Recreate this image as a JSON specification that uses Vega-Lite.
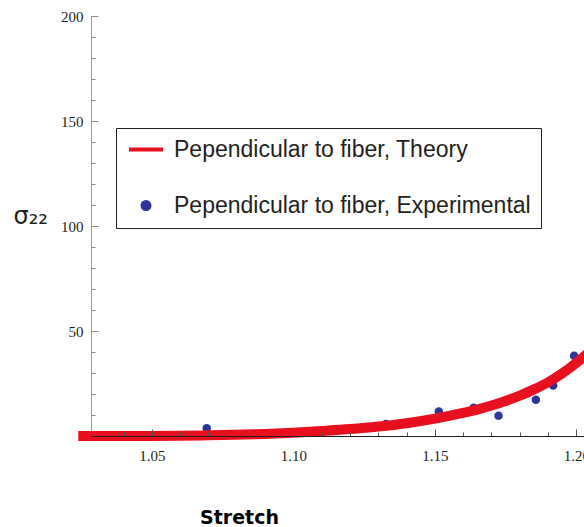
{
  "$schema": "https://vega.github.io/schema/vega-lite/v6.json",
  "width": 493,
  "height": 420,
  "autosize": "none",
  "padding": {"left": 91, "top": 16, "right": 0, "bottom": 91},
  "background": "#ffffff",
  "config": {"view": {"stroke": null}},
  "datasets": {
    "theory": [
      {"series": "Pependicular to fiber, Theory", "stretch": 1.024, "sigma": 0},
      {"series": "Pependicular to fiber, Theory", "stretch": 1.03, "sigma": 0},
      {"series": "Pependicular to fiber, Theory", "stretch": 1.04, "sigma": 0},
      {"series": "Pependicular to fiber, Theory", "stretch": 1.05, "sigma": 0},
      {"series": "Pependicular to fiber, Theory", "stretch": 1.06, "sigma": 0.1},
      {"series": "Pependicular to fiber, Theory", "stretch": 1.07, "sigma": 0.3},
      {"series": "Pependicular to fiber, Theory", "stretch": 1.08, "sigma": 0.6},
      {"series": "Pependicular to fiber, Theory", "stretch": 1.09, "sigma": 1.0},
      {"series": "Pependicular to fiber, Theory", "stretch": 1.10, "sigma": 1.6},
      {"series": "Pependicular to fiber, Theory", "stretch": 1.11, "sigma": 2.4},
      {"series": "Pependicular to fiber, Theory", "stretch": 1.12, "sigma": 3.3},
      {"series": "Pependicular to fiber, Theory", "stretch": 1.13, "sigma": 4.5},
      {"series": "Pependicular to fiber, Theory", "stretch": 1.14, "sigma": 6.1},
      {"series": "Pependicular to fiber, Theory", "stretch": 1.15, "sigma": 8.3},
      {"series": "Pependicular to fiber, Theory", "stretch": 1.155, "sigma": 9.6},
      {"series": "Pependicular to fiber, Theory", "stretch": 1.16, "sigma": 11.0},
      {"series": "Pependicular to fiber, Theory", "stretch": 1.165, "sigma": 12.6},
      {"series": "Pependicular to fiber, Theory", "stretch": 1.17, "sigma": 14.5},
      {"series": "Pependicular to fiber, Theory", "stretch": 1.175, "sigma": 16.7},
      {"series": "Pependicular to fiber, Theory", "stretch": 1.18, "sigma": 19.2},
      {"series": "Pependicular to fiber, Theory", "stretch": 1.185, "sigma": 22.2},
      {"series": "Pependicular to fiber, Theory", "stretch": 1.19, "sigma": 25.6},
      {"series": "Pependicular to fiber, Theory", "stretch": 1.195, "sigma": 29.8},
      {"series": "Pependicular to fiber, Theory", "stretch": 1.20, "sigma": 34.8},
      {"series": "Pependicular to fiber, Theory", "stretch": 1.205, "sigma": 40.5}
    ],
    "experimental": [
      {"series": "Pependicular to fiber, Experimental", "stretch": 1.0694, "sigma": 3.7},
      {"series": "Pependicular to fiber, Experimental", "stretch": 1.1327, "sigma": 5.7},
      {"series": "Pependicular to fiber, Experimental", "stretch": 1.1368, "sigma": 5.7},
      {"series": "Pependicular to fiber, Experimental", "stretch": 1.1514, "sigma": 11.7},
      {"series": "Pependicular to fiber, Experimental", "stretch": 1.1637, "sigma": 13.5},
      {"series": "Pependicular to fiber, Experimental", "stretch": 1.1725, "sigma": 9.7},
      {"series": "Pependicular to fiber, Experimental", "stretch": 1.1857, "sigma": 17.3},
      {"series": "Pependicular to fiber, Experimental", "stretch": 1.1918, "sigma": 24.1},
      {"series": "Pependicular to fiber, Experimental", "stretch": 1.1992, "sigma": 38.2}
    ]
  },
  "layer": [
    {
      "data": {"name": "experimental"},
      "mark": {"type": "point", "filled": true, "size": 72, "opacity": 1},
      "encoding": {
        "x": {
          "field": "stretch", "type": "quantitative",
          "scale": {"domain": [1.0285, 1.2027], "nice": false, "zero": false},
          "axis": {
            "orient": "bottom",
            "values": [1.03, 1.04, 1.06, 1.07, 1.08, 1.09, 1.11, 1.12, 1.13, 1.14, 1.16, 1.17, 1.18, 1.19],
            "tickSize": -4, "tickColor": "#555555", "labels": false, "domain": false,
            "title": null, "grid": false, "zindex": 1
          }
        },
        "y": {
          "field": "sigma", "type": "quantitative",
          "scale": {"domain": [0, 200], "nice": false},
          "axis": {
            "orient": "left",
            "values": [10, 20, 30, 40, 60, 70, 80, 90, 110, 120, 130, 140, 160, 170, 180, 190],
            "tickSize": -4, "tickColor": "#888888", "labels": false, "domain": false,
            "title": null, "grid": false
          }
        },
        "color": {
          "field": "series", "type": "nominal",
          "scale": {
            "domain": ["Pependicular to fiber, Theory", "Pependicular to fiber, Experimental"],
            "range": ["#e8101f", "#2e3598"]
          },
          "legend": {
            "orient": "none", "legendX": 25, "legendY": 112, "direction": "vertical",
            "title": null,
            "labelFont": "Liberation Sans", "labelFontSize": 23, "labelColor": "#231f20",
            "labelLimit": 600, "labelOffset": 16.5,
            "strokeColor": "#231f20", "fillColor": "#ffffff", "padding": 10,
            "rowPadding": 32, "symbolSize": 49, "symbolStrokeWidth": 4, "symbolOffset": 8.5,
            "symbolOpacity": 1
          }
        },
        "shape": {
          "field": "series", "type": "nominal",
          "scale": {
            "domain": ["Pependicular to fiber, Theory", "Pependicular to fiber, Experimental"],
            "range": ["M-4.86,0H4.86", "circle"]
          },
          "legend": {
            "orient": "none", "legendX": 25, "legendY": 112, "direction": "vertical",
            "title": null,
            "labelFont": "Liberation Sans", "labelFontSize": 23, "labelColor": "#231f20",
            "labelLimit": 600, "labelOffset": 16.5,
            "strokeColor": "#231f20", "fillColor": "#ffffff", "padding": 10,
            "rowPadding": 32, "symbolSize": 49, "symbolStrokeWidth": 4, "symbolOffset": 8.5,
            "symbolOpacity": 1
          }
        }
      }
    },
    {
      "data": {"name": "theory"},
      "mark": {"type": "line", "strokeWidth": 10, "interpolate": "monotone", "strokeCap": "butt"},
      "encoding": {
        "x": {
          "field": "stretch", "type": "quantitative",
          "axis": {
            "orient": "bottom",
            "values": [1.05, 1.10, 1.15, 1.20], "format": ".2f",
            "tickSize": -7, "tickColor": "#555555", "domainColor": "#231f20", "domainWidth": 1,
            "labelFont": "Liberation Serif", "labelFontSize": 15, "labelColor": "#231f20",
            "labelPadding": 19, "grid": false, "zindex": 1,
            "title": "Stretch", "titleFont": "DejaVu Sans", "titleFontWeight": "bold",
            "titleFontSize": 19, "titleColor": "#000000",
            "titleX": 148, "titleY": 87, "titleAlign": "center", "titleBaseline": "alphabetic"
          }
        },
        "y": {
          "field": "sigma", "type": "quantitative",
          "axis": {
            "orient": "left",
            "values": [50, 100, 150, 200],
            "tickSize": -7, "tickColor": "#888888", "domainColor": "#999999",
            "labelFont": "Liberation Serif", "labelFontSize": 15, "labelColor": "#231f20",
            "labelPadding": 15, "grid": false,
            "title": "σ₂₂", "titleFont": "DejaVu Sans", "titleFontWeight": "normal",
            "titleFontSize": 24, "titleColor": "#231f20", "titleAngle": 0,
            "titleX": -78, "titleY": 207, "titleAlign": "left", "titleBaseline": "alphabetic"
          }
        },
        "color": {"field": "series", "type": "nominal"}
      }
    }
  ],
  "resolve": {"axis": {"x": "independent", "y": "independent"}}
}
